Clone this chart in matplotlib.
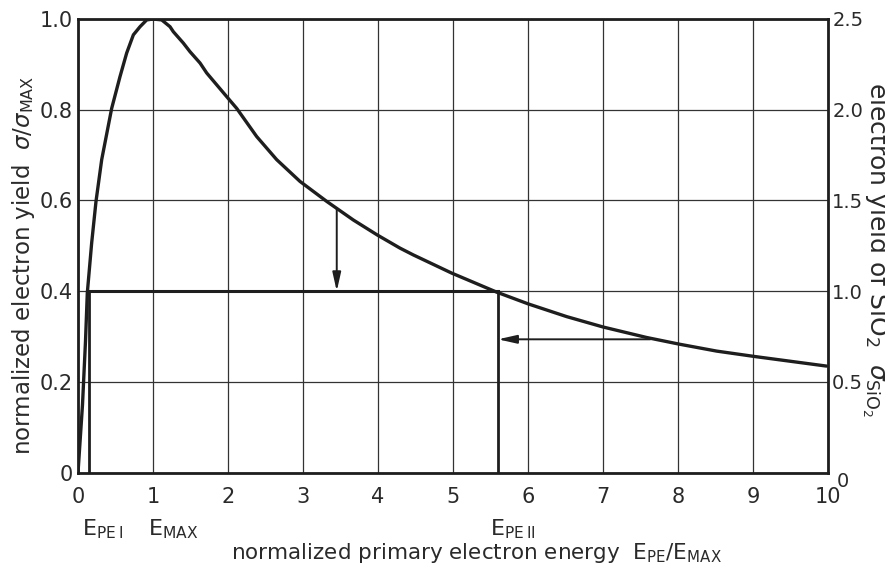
import numpy as np
import matplotlib
matplotlib.use("Agg")
import matplotlib.pyplot as plt
import matplotlib.transforms as mtrans

# normalized yield curve sigma/sigma_max vs E_PE/E_MAX
energy = [0.0, 0.06, 0.1, 0.124, 0.182, 0.24, 0.316, 0.449, 0.56, 0.649, 0.738, 0.827,
          0.916, 1.0, 1.116, 1.227, 1.271, 1.404, 1.493, 1.627, 1.716, 1.982, 2.116,
          2.382, 2.649, 2.96, 3.316, 3.671, 3.99, 4.293, 4.471, 4.982, 5.582, 6.004,
          6.516, 7.004, 7.582, 8.027, 8.516, 9.027, 9.98]
yield_norm = [0.0, 0.15, 0.29, 0.396, 0.506, 0.598, 0.69, 0.803, 0.873, 0.925, 0.965,
              0.983, 0.998, 1.0, 0.998, 0.983, 0.972, 0.947, 0.928, 0.903, 0.881, 0.829,
              0.803, 0.741, 0.69, 0.642, 0.598, 0.557, 0.524, 0.495, 0.48, 0.44, 0.398,
              0.372, 0.344, 0.321, 0.298, 0.283, 0.268, 0.256, 0.235]

x_ticks = [0, 1, 2, 3, 4, 5, 6, 7, 8, 9, 10]
left_ticks = [0, 0.2, 0.4, 0.6, 0.8, 1.0]
left_ticklabels = ["0", "0.2", "0.4", "0.6", "0.8", "1.0"]
right_ticks = [0, 0.5, 1.0, 1.5, 2.0, 2.5]
right_ticklabels = ["0", "0.5", "1.0", "1.5", "2.0", "2.5"]

e_pe1 = 0.14       # first crossover
e_pe2 = 5.6        # second crossover
level = 0.4        # sigma_SiO2 = 1 on right scale
arrow_down = (3.45, 0.583, 0.4)     # x, y start, y end
arrow_left = (7.63, 5.6, 0.294)     # x start, x end, y

ink = "#1e1e1e"
txt = "#2a2a2a"
plt.rcParams["font.family"] = ["DejaVu Sans"]
plt.rcParams["mathtext.fontset"] = "dejavusans"

fig = plt.figure(figsize=(8.85, 5.68), dpi=100)
ax = fig.add_axes([78 / 885, 1 - 472.7 / 568, 750 / 885, 453.7 / 568])

ax.set_xlim(0, 10)
ax.set_ylim(0, 1.0)
ax.set_xticks(x_ticks)
ax.set_xticklabels([str(t) for t in x_ticks])
ax.set_yticks(left_ticks)
ax.set_yticklabels(left_ticklabels)
ax.grid(True, color="#333333", lw=0.9)
ax.tick_params(axis="y", length=0, labelsize=15, colors=txt, pad=4)
ax.tick_params(axis="x", length=0, labelsize=15, colors=txt, pad=10)
for s in ax.spines.values():
    s.set_linewidth(2.0)
    s.set_color(ink)

ax.plot(energy, yield_norm, color=ink, lw=2.4, solid_capstyle="round",
        solid_joinstyle="round", zorder=5)

# crossover construction
ax.plot([e_pe1, e_pe2], [level, level], color=ink, lw=2.2, zorder=4)
ax.plot([e_pe1, e_pe1], [0, level], color=ink, lw=2.0, zorder=4)
ax.plot([e_pe2, e_pe2], [0, level], color=ink, lw=2.0, zorder=4)

arrow_props = dict(arrowstyle="-|>,head_width=0.18,head_length=0.8", color=ink,
                   lw=1.4, shrinkA=0, shrinkB=0, mutation_scale=14)
ax.annotate("", xy=(arrow_down[0], arrow_down[2]), xytext=(arrow_down[0], arrow_down[1]),
            arrowprops=arrow_props, zorder=6)
ax.annotate("", xy=(arrow_left[1], arrow_left[2]), xytext=(arrow_left[0], arrow_left[2]),
            arrowprops=arrow_props, zorder=6)

ax2 = ax.twinx()
ax2.set_ylim(0, 2.5)
ax2.set_yticks(right_ticks)
ax2.set_yticklabels(right_ticklabels)
ax2.tick_params(length=0, labelsize=14, colors=txt, pad=3)
for s in ax2.spines.values():
    s.set_visible(False)
# the right-hand zero sits a little lower
zero_lab = ax2.get_yticklabels()[0]
zero_lab.set_transform(zero_lab.get_transform() +
                       mtrans.ScaledTranslation(0.05, -0.07, fig.dpi_scale_trans))

# energy markers under the axis
lab_kw = dict(fontsize=16, color=txt, va="center")
ax.text(0.05, -0.125, r"$\mathregular{E_{PE\,I}}$", ha="left", **lab_kw)
ax.text(0.93, -0.125, r"$\mathregular{E_{MAX}}$", ha="left", **lab_kw)
ax.text(5.5, -0.125, r"$\mathregular{E_{PE\,II}}$", ha="left", **lab_kw)

fig.text(476 / 885, 1 - 553 / 568,
         r"normalized primary electron energy  $\mathregular{E_{PE}/E_{MAX}}$",
         ha="center", va="center", fontsize=15.5, color=txt)
fig.text(24 / 885, 1 - 265 / 568,
         r"normalized electron yield  $\sigma/\sigma_{\mathregular{MAX}}$",
         rotation=90, ha="center", va="center", fontsize=16.5, color=txt)
# right-hand label runs off the sheet edge
fig.text(869 / 885, 1 - 250 / 568,
         r"electron yield of SiO$_2$  $\sigma_{\mathregular{SiO_2}}$",
         rotation=-90, rotation_mode="anchor", ha="center", va="baseline",
         fontsize=18, color=txt)

fig.savefig("out.png", dpi=100, facecolor="white")
